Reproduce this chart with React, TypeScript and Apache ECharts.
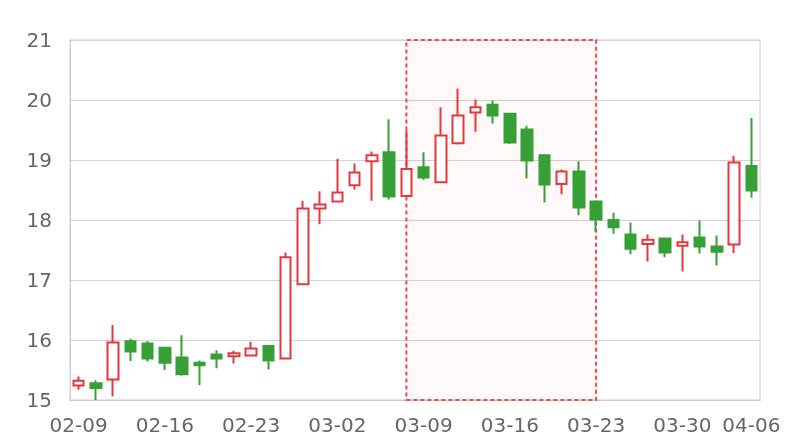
import React, { useEffect, useRef } from "react";
import * as echarts from "echarts";

const dates = [
  "02-09", "02-10", "02-11", "02-12", "02-13",
  "02-16", "02-17", "02-18", "02-19", "02-20",
  "02-23", "02-24", "02-25", "02-26", "02-27",
  "03-02", "03-03", "03-04", "03-05", "03-06",
  "03-09", "03-10", "03-11", "03-12", "03-13",
  "03-16", "03-17", "03-18", "03-19", "03-20",
  "03-23", "03-24", "03-25", "03-26", "03-27",
  "03-30", "03-31", "04-01", "04-02", "04-06",
];

// [open, close, low, high]
const ohlc = [
  [15.24, 15.32, 15.17, 15.39],
  [15.28, 15.2, 15.0, 15.33],
  [15.34, 15.96, 15.06, 16.25],
  [15.98, 15.81, 15.65, 16.02],
  [15.94, 15.69, 15.64, 15.98],
  [15.87, 15.62, 15.5, 15.88],
  [15.71, 15.43, 15.41, 16.08],
  [15.62, 15.58, 15.25, 15.66],
  [15.76, 15.69, 15.53, 15.83],
  [15.73, 15.78, 15.61, 15.82],
  [15.74, 15.86, 15.73, 15.97],
  [15.9, 15.66, 15.51, 15.9],
  [15.69, 17.38, 15.69, 17.46],
  [16.93, 18.19, 16.93, 18.32],
  [18.19, 18.26, 17.93, 18.48],
  [18.31, 18.46, 18.29, 19.02],
  [18.58, 18.79, 18.51, 18.94],
  [18.98, 19.08, 18.32, 19.14],
  [19.13, 18.39, 18.34, 19.68],
  [18.4, 18.85, 18.4, 19.49],
  [18.88, 18.71, 18.67, 19.13],
  [18.63, 19.41, 18.63, 19.88],
  [19.28, 19.74, 19.26, 20.19],
  [19.79, 19.88, 19.47, 20.01],
  [19.92, 19.74, 19.61, 19.99],
  [19.77, 19.29, 19.27, 19.77],
  [19.51, 18.99, 18.69, 19.57],
  [19.08, 18.59, 18.29, 19.08],
  [18.6, 18.81, 18.43, 18.84],
  [18.81, 18.21, 18.08, 18.98],
  [18.31, 18.01, 17.81, 18.31],
  [18.0, 17.88, 17.77, 18.12],
  [17.76, 17.52, 17.43, 17.96],
  [17.6, 17.67, 17.31, 17.76],
  [17.69, 17.46, 17.38, 17.69],
  [17.57, 17.63, 17.14, 17.76],
  [17.71, 17.56, 17.44, 17.99],
  [17.56, 17.47, 17.24, 17.74],
  [17.59, 18.96, 17.45, 19.07],
  [18.9, 18.49, 18.37, 19.7],
];

const tickLabels = ["02-09", "02-16", "02-23", "03-02", "03-09", "03-16", "03-23", "03-30", "04-06"];
const highlightRange = ["03-06", "03-23"];

const RED = "#e5373c";
const GREEN = "#36a036";

export default function App() {
  const ref = useRef<HTMLDivElement>(null);
  useEffect(() => {
    if (!ref.current) return;
    const chart = echarts.init(ref.current, undefined, { renderer: "svg" });
    chart.setOption({
      animation: false,
      grid: {
        left: 70,
        right: 40,
        top: 40,
        bottom: 40,
        show: true,
        borderColor: "#cccccc",
        borderWidth: 1,
      },
      xAxis: {
        type: "category",
        data: dates,
        boundaryGap: true,
        axisLine: { lineStyle: { color: "#cccccc" } },
        axisTick: { show: false },
        axisLabel: {
          color: "#666666",
          fontSize: 20,
          fontFamily: "DejaVu Sans",
          margin: 15,
          interval: (i: number, v: string) => tickLabels.includes(v),
        },
        splitLine: { show: false },
      },
      yAxis: {
        type: "value",
        min: 15,
        max: 21,
        interval: 1,
        axisLine: { show: true, lineStyle: { color: "#cccccc" } },
        axisTick: { show: false },
        axisLabel: {
          color: "#666666",
          fontSize: 20,
          fontFamily: "DejaVu Sans",
          margin: 18,
        },
        splitLine: { lineStyle: { color: "#d3d3d3" } },
      },
      series: [
        {
          type: "candlestick",
          data: ohlc,
          barWidth: 11,
          itemStyle: {
            color: "#ffffff",
            color0: GREEN,
            borderColor: RED,
            borderColor0: GREEN,
            borderWidth: 2,
          },
          markArea: {
            silent: true,
            itemStyle: {
              color: "rgba(240, 72, 77, 0.04)",
              borderColor: "#f0484d",
              borderWidth: 2,
              borderType: [4, 3],
            },
            data: [[{ xAxis: highlightRange[0] }, { xAxis: highlightRange[1] }]],
          },
        },
      ],
    });
    return () => chart.dispose();
  }, []);
  return (
    <div
      ref={ref}
      style={{ position: "fixed", left: 0, top: 0, width: 800, height: 440 }}
    />
  );
}
